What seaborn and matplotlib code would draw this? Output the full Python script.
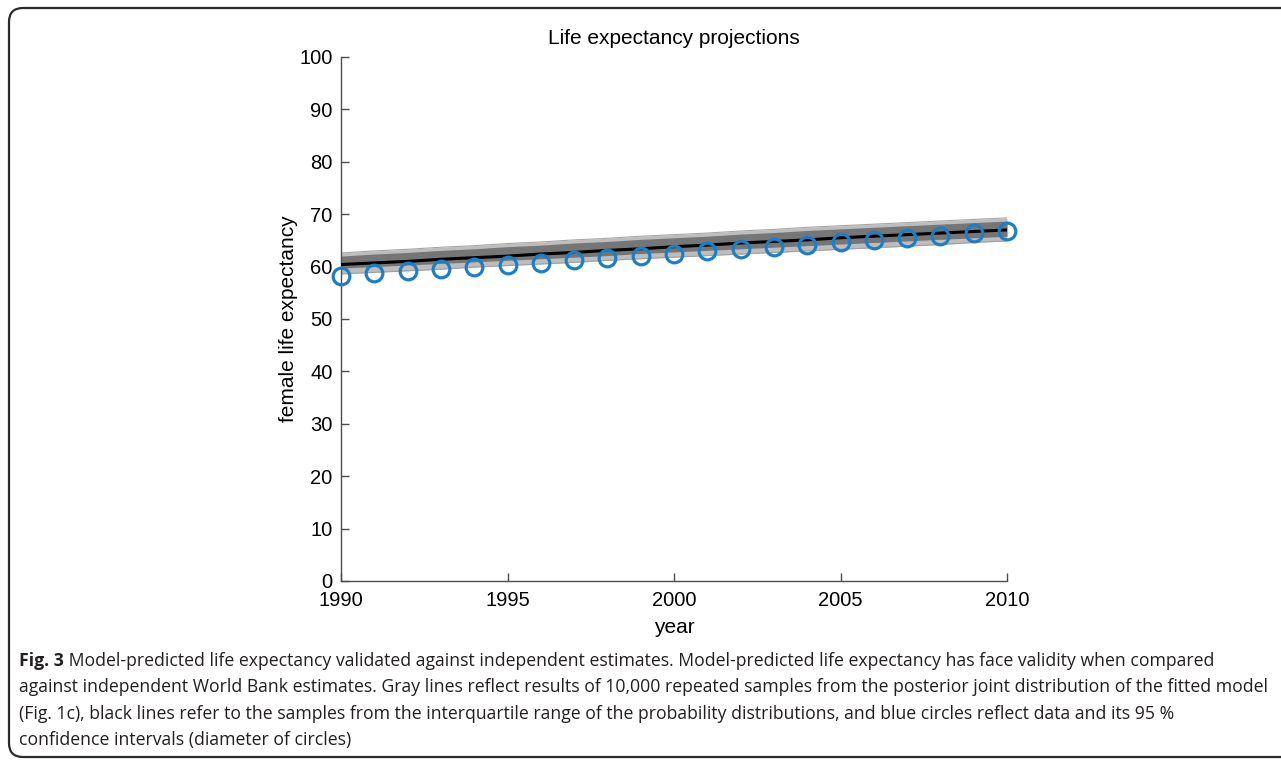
import numpy as np
import pandas as pd
import matplotlib
matplotlib.use("Agg")
import matplotlib.pyplot as plt
from matplotlib.patches import FancyBboxPatch
from matplotlib.transforms import IdentityTransform
import seaborn as sns

# ---- data -------------------------------------------------------------
years = list(range(1990, 2011))

# World Bank estimates (blue circles)
observed = [58.2, 58.7, 59.1, 59.5, 59.9, 60.3, 60.7, 61.2, 61.6, 62.0,
            62.4, 62.9, 63.4, 63.8, 64.2, 64.6, 65.1, 65.5, 65.9, 66.4, 66.8]

# Model median trajectory (black line)
median = [60.4, 60.7, 61.0, 61.4, 61.7, 62.0, 62.4, 62.7, 63.1, 63.4,
          63.8, 64.1, 64.5, 64.8, 65.1, 65.5, 65.8, 66.1, 66.4, 66.7, 67.0]

# Interquartile range of posterior samples (dark gray)
iqr_low = [59.7, 60.0, 60.3, 60.6, 60.9, 61.2, 61.5, 61.8, 62.1, 62.5,
           62.8, 63.1, 63.4, 63.7, 64.0, 64.3, 64.6, 64.9, 65.2, 65.5, 65.8]
iqr_high = [62.0, 62.4, 62.7, 63.1, 63.4, 63.8, 64.1, 64.5, 64.8, 65.2,
            65.5, 65.8, 66.2, 66.5, 66.9, 67.2, 67.5, 67.8, 68.1, 68.4, 68.7]

# Full spread of posterior samples (light gray)
full_low = [58.6, 58.9, 59.2, 59.5, 59.9, 60.2, 60.5, 60.8, 61.2, 61.5,
            61.8, 62.1, 62.4, 62.7, 63.0, 63.3, 63.6, 63.9, 64.2, 64.6, 64.9]
full_high = [62.6, 63.0, 63.3, 63.7, 64.0, 64.4, 64.7, 65.1, 65.4, 65.8,
             66.1, 66.4, 66.8, 67.1, 67.5, 67.8, 68.1, 68.4, 68.7, 69.0, 69.3]

title = "Life expectancy projections"
xlabel = "year"
ylabel = "female life expectancy"
xticks = [1990, 1995, 2000, 2005, 2010]
yticks = list(range(0, 101, 10))

caption_lines = [
    ("Fig. 3", " Model-predicted life expectancy validated against independent estimates. Model-predicted life expectancy has face validity when compared"),
    ("", "against independent World Bank estimates. Gray lines reflect results of 10,000 repeated samples from the posterior joint distribution of the fitted model"),
    ("", "(Fig. 1c), black lines refer to the samples from the interquartile range of the probability distributions, and blue circles reflect data and its 95 %"),
    ("", "confidence intervals (diameter of circles)"),
]

df = pd.DataFrame({"year": years, "observed": observed, "median": median})

# ---- styling ----------------------------------------------------------
sns.set_theme(style="white")
plt.rcParams["font.family"] = ["Liberation Sans", "DejaVu Sans"]

W, H = 1281, 761
fig = plt.figure(figsize=(W / 100, H / 100), dpi=100)
ax = fig.add_axes([341 / W, 1 - 581 / H, (1007 - 341) / W, (581 - 57) / H])

axis_col = "#4d4d4d"
blue = "#1b7fc6"

ax.fill_between(years, full_low, full_high, color="#bdbdbd", lw=0, zorder=1)
ax.plot(years, full_low, color="#a0a0a0", lw=0.8, zorder=1.5)
ax.plot(years, full_high, color="#a8a8a8", lw=0.8, zorder=1.5)
ax.fill_between(years, iqr_low, iqr_high, color="#767676", lw=0, zorder=2)
sns.lineplot(data=df, x="year", y="median", color="black", lw=2.2, ax=ax, zorder=3)
ax.plot(df["year"], df["observed"], linestyle="none", marker="o", markersize=12,
        markerfacecolor="none", markeredgecolor=blue, markeredgewidth=2.3,
        zorder=4, clip_on=False)

ax.set_xlim(1990, 2010)
ax.set_ylim(0, 100)
ax.set_xticks(xticks)
ax.set_yticks(yticks)
ax.set_xticklabels([str(t) for t in xticks])
ax.set_yticklabels([str(t) for t in yticks])

for side in ["top", "right"]:
    ax.spines[side].set_visible(False)
for side in ["left", "bottom"]:
    ax.spines[side].set_color(axis_col)
    ax.spines[side].set_linewidth(1.0)

ax.tick_params(axis="both", direction="in", length=6, width=1.0, color=axis_col,
               labelsize=14.5, labelcolor="black", bottom=True, left=True)
ax.tick_params(axis="x", pad=7)
ax.tick_params(axis="y", pad=6)

ax.set_xlabel(xlabel, fontsize=15, color="black", labelpad=6)
ax.set_ylabel(ylabel, fontsize=15, color="black", labelpad=1)
ax.set_title(title, fontsize=15, color="black", pad=9)

# rounded figure frame
frame = FancyBboxPatch((9, H - 757), W + 40, 757 - 8,
                       boxstyle="round,pad=0,rounding_size=14",
                       transform=IdentityTransform(), fill=False,
                       edgecolor="#2b2b2b", linewidth=1.6)
fig.patches.append(frame)

# caption
cap_font = ["Open Sans", "DejaVu Sans"]
cap_size = 12.7
y0 = 661
for i, (bold, rest) in enumerate(caption_lines):
    yy = 1 - (y0 + i * 26.5) / H
    x = 19 / W
    if bold:
        t = fig.text(x, yy, bold, fontsize=cap_size, fontweight="bold",
                     family=cap_font, color="#231f20", va="center", ha="left")
        fig.canvas.draw()
        bb = t.get_window_extent()
        x = bb.x1 / W
    fig.text(x, yy, rest, fontsize=cap_size, family=cap_font,
             color="#231f20", va="center", ha="left")

fig.savefig("out.png", dpi=100)
